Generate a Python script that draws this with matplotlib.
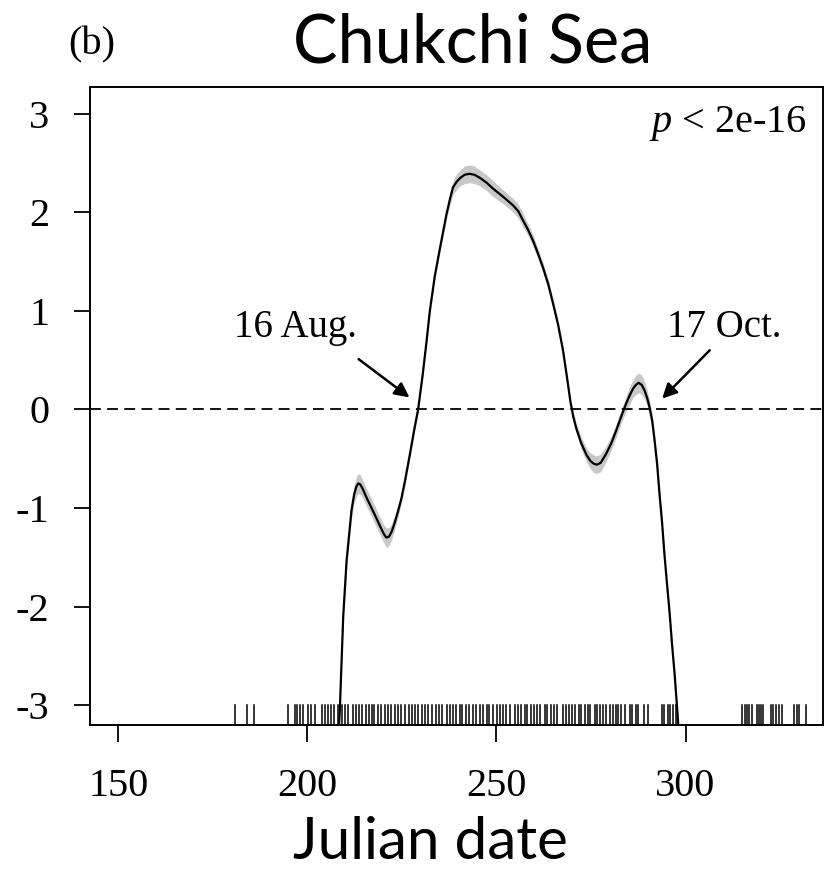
import matplotlib
matplotlib.use('Agg')
import matplotlib.pyplot as plt
import numpy as np

plt.rcParams['axes.unicode_minus'] = False  # R draws a plain hyphen
plt.rcParams['mathtext.fontset'] = 'custom'
plt.rcParams['mathtext.it'] = 'Liberation Serif:italic'
plt.rcParams['mathtext.rm'] = 'Liberation Serif'

# fitted smooth
julian = [208.0, 208.6, 209.5, 210.4, 211.7, 212.4, 213.0, 213.5, 214.0, 214.6,
          215.5, 216.5, 218.0, 219.2, 220.2, 220.9, 221.6, 222.3, 223.1, 224.0,
          224.9, 225.8, 227.1, 228.3, 229.3, 230.5, 231.5, 232.4, 233.7, 235.0,
          236.0, 236.8, 237.7, 238.5, 239.5, 240.5, 241.6, 242.9, 244.2, 245.6,
          247.4, 249.1, 252.0, 254.4, 255.8, 257.0, 258.4, 259.7, 261.0, 262.3,
          263.7, 265.0, 266.3, 267.6, 268.6, 269.6, 270.3, 271.1, 272.4, 273.8,
          274.8, 275.7, 276.6, 277.6, 279.0, 280.4, 281.7, 283.0, 284.3, 285.2,
          286.1, 286.9, 287.6, 288.4, 289.2, 289.9, 290.5, 291.2, 291.8, 292.5,
          293.1, 293.8, 294.4, 295.1, 295.8, 296.4, 297.1, 298.0, 298.3]
effect = [-3.50, -3.05, -2.10, -1.53, -1.02, -0.86, -0.78, -0.75, -0.76, -0.80,
          -0.88, -0.96, -1.08, -1.18, -1.26, -1.30, -1.29, -1.24, -1.15, -1.03,
          -0.90, -0.73, -0.46, -0.20, 0.00, 0.35, 0.68, 1.00, 1.35, 1.62,
          1.82, 1.98, 2.13, 2.25, 2.31, 2.35, 2.38, 2.39, 2.38, 2.35,
          2.30, 2.24, 2.15, 2.07, 2.01, 1.92, 1.82, 1.71, 1.58, 1.44,
          1.27, 1.07, 0.86, 0.60, 0.34, 0.07, -0.07, -0.19, -0.34, -0.46,
          -0.52, -0.55, -0.56, -0.54, -0.45, -0.34, -0.21, -0.07, 0.06, 0.14,
          0.21, 0.25, 0.27, 0.25, 0.19, 0.11, 0.02, -0.12, -0.31, -0.56,
          -0.85, -1.15, -1.46, -1.77, -2.07, -2.37, -2.68, -3.15, -3.50]
se = [0.06, 0.06, 0.06, 0.07, 0.08, 0.09, 0.10, 0.10, 0.10, 0.09,
      0.09, 0.09, 0.09, 0.09, 0.09, 0.10, 0.09, 0.08, 0.07, 0.06,
      0.05, 0.05, 0.04, 0.04, 0.04, 0.04, 0.04, 0.04, 0.04, 0.04,
      0.05, 0.05, 0.06, 0.07, 0.08, 0.08, 0.09, 0.09, 0.09, 0.08,
      0.08, 0.08, 0.07, 0.07, 0.07, 0.07, 0.06, 0.06, 0.05, 0.05,
      0.05, 0.05, 0.04, 0.04, 0.04, 0.04, 0.05, 0.05, 0.06, 0.07,
      0.08, 0.09, 0.09, 0.09, 0.08, 0.07, 0.07, 0.07, 0.08, 0.09,
      0.09, 0.10, 0.10, 0.10, 0.09, 0.08, 0.07, 0.06, 0.06, 0.05,
      0.05, 0.05, 0.05, 0.05, 0.05, 0.05, 0.05, 0.05, 0.05]

# observation days (rug)
rug_days = [181.0, 184.0, 186.0,
            195.0, 196.7, 197.4, 198.2, 199.0, 200.3, 201.1, 202.0, 203.8, 204.7,
            205.5, 206.4, 207.0, 208.2, 209.1, 210.0, 210.8, 212.1, 212.8, 213.7,
            214.4, 215.5, 216.4, 217.0, 217.7, 218.6, 219.6, 220.5, 221.4, 222.1,
            223.1, 224.0, 224.9, 225.8, 226.9, 227.6, 228.4, 229.3,
            230.2, 231.1, 232.0, 233.1, 234.0, 234.9, 235.7, 237.0, 237.7, 238.5,
            239.3, 240.3, 241.0, 241.9, 242.7, 243.8, 244.7, 245.6, 246.5, 247.4,
            248.1, 249.0, 250.2, 250.9, 251.8, 252.6, 253.5, 255.0, 255.7, 256.6,
            257.5, 258.1, 259.2, 260.0, 260.7, 261.6, 262.8, 263.5, 264.4, 265.1,
            266.0, 267.6, 268.3, 269.2, 270.1, 270.7, 271.8, 272.4, 273.3, 274.2,
            274.8, 276.0, 276.6, 277.4, 278.2, 278.9, 279.9, 280.8, 281.5, 282.1,
            283.0, 283.9, 285.2, 285.9, 286.8, 287.4, 289.0, 290.0,
            293.8, 294.4, 295.3, 296.0, 296.8, 297.5,
            315.0, 315.6, 316.2, 316.9, 317.5, 318.8, 319.4, 320.0, 320.6,
            322.6, 323.2, 323.9, 324.6, 325.5, 328.8, 329.4, 330.1, 331.9]

x_ticks = [150, 200, 250, 300]
y_ticks = [-3, -2, -1, 0, 1, 2, 3]

serif = 'Liberation Serif'
sans = 'Lato'

fig = plt.figure(figsize=(8.27, 8.72), dpi=100)
ax = fig.add_axes([0.109, 0.1686, 0.886, 0.7316])

lo = np.array(effect) - np.array(se)
hi = np.array(effect) + np.array(se)
ax.fill_between(julian, lo, hi, color='#c8c8c8', lw=0)
ax.plot(julian, effect, color='black', lw=1.6, solid_joinstyle='round')
ax.axhline(0, color='black', lw=1.3, ls=(0, (6, 3.5)))

for d in rug_days:
    ax.axvline(d, ymin=0, ymax=0.031, color='black', lw=1.1)

ax.set_xlim(142.6, 336.3)
ax.set_ylim(-3.2, 3.27)
ax.set_xticks(x_ticks)
ax.set_yticks(y_ticks)
ax.tick_params(axis='x', length=12, width=1.3, pad=19, labelsize=29)
ax.tick_params(axis='y', length=11.5, width=1.3, pad=18, labelsize=29)
for lab in ax.get_xticklabels() + ax.get_yticklabels():
    lab.set_fontfamily(serif)
for s in ax.spines.values():
    s.set_linewidth(1.4)

ax.text(213.1, 0.73, '16 Aug.', fontsize=28, family=serif, ha='right', va='baseline')
ax.annotate('', xy=(227.6, 0.105), xytext=(213.0, 0.527),
            arrowprops=dict(arrowstyle='-|>', color='black', lw=1.8, mutation_scale=22))
ax.text(295.2, 0.73, '17 Oct.', fontsize=28, family=serif, ha='left', va='baseline')
ax.annotate('', xy=(293.3, 0.09), xytext=(306.9, 0.62),
            arrowprops=dict(arrowstyle='-|>', color='black', lw=1.8, mutation_scale=22))
ax.text(0.978, 0.943, '$p$ < 2e-16', transform=ax.transAxes, fontsize=29,
        family=serif, ha='right', va='center')

fig.text(0.082, 0.948, '(b)', fontsize=29, family=serif, ha='left', va='center')
fig.text(0.571, 0.950, 'Chukchi Sea', fontsize=48, family=sans, ha='center', va='center')
fig.text(0.520, 0.034, 'Julian date', fontsize=42, family=sans, ha='center', va='center')

fig.savefig('out.png', dpi=100)
